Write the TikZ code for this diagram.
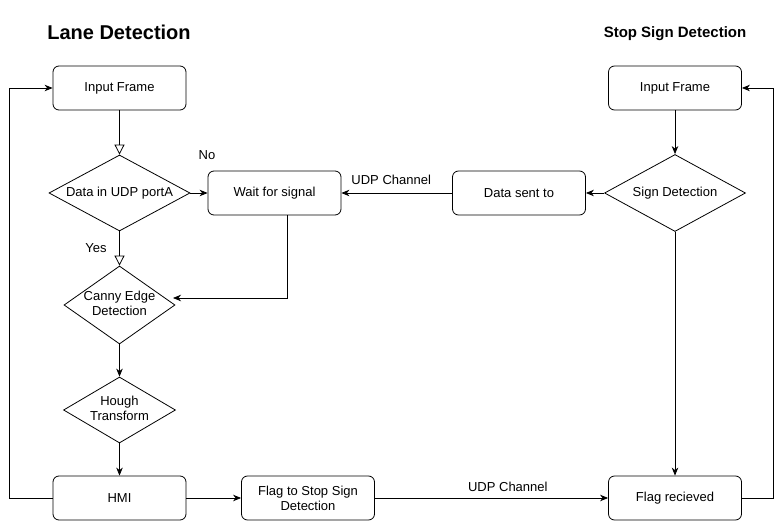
\documentclass[tikz,border=0pt]{standalone}
\usepackage{fontspec}
\setmainfont{Liberation Sans}
\usetikzlibrary{shapes.geometric,arrows.meta}
\begin{document}
\begin{tikzpicture}[x=1pt,y=-1pt,
 every node/.style={font=\fontsize{13}{15}\selectfont},
 box/.style={draw, rounded corners=6pt, minimum width=133pt, minimum height=44pt, inner sep=0pt, align=center, line width=0.8pt},
 dia/.style={draw, diamond, inner sep=0pt, line width=0.8pt},
 arr/.style={-{Stealth[length=8pt,width=6.5pt,inset=2.5pt]}, line width=0.8pt},
 oarr/.style={-{Triangle[open,length=10pt,width=10pt]}, line width=0.8pt},
 title/.style={inner sep=0pt}]
\useasboundingbox (0,0) rectangle (784,521);

\node[title, font=\bfseries\fontsize{20}{22}\selectfont] (t1) at (119,32) {Lane Detection};
\node[title, font=\bfseries\fontsize{15}{17}\selectfont] (t2) at (675,34) {Stop Sign Detection};

\node[box] (inL) at (119.5,88) {Input Frame};
\node[dia, minimum width=141pt, minimum height=76pt, label={center:Data in UDP portA}] (udp) at (119.5,193) {};
\node[box] (wait) at (274.5,193) {Wait for signal};
\node[dia, minimum width=111pt, minimum height=78pt, label={[align=center, yshift=2pt]center:Canny Edge\\Detection}] (canny) at (119.5,305) {};
\node[dia, minimum width=112pt, minimum height=66pt, label={[align=center, yshift=2pt]center:Hough\\Transform}] (hough) at (119.5,410) {};
\node[box] (hmi) at (119.5,498) {HMI};
\node[box] (flag) at (308,498) {Flag to Stop Sign\\Detection};
\node[box] (frec) at (675,498) {Flag recieved};
\node[box] (inR) at (675,88) {Input Frame};
\node[dia, minimum width=141pt, minimum height=77pt, label={center:Sign Detection}] (sign) at (675,193) {};
\node[box] (sent) at (519,193) {Data sent to};

\node (no) at (207,155) {No};
\node (yes) at (96,248) {Yes};

\coordinate (wc) at (287,298);
\coordinate (ce) at (173,298);
\coordinate (rr) at (773,0);
\coordinate (ll) at (9,0);

\draw[oarr] (inL) -- (udp);
\draw[arr] (udp) -- (wait);
\draw[oarr] (udp) -- (canny);
\draw[arr] (wait.south -| wc) -- (wc) -- (ce);
\draw[arr] (canny) -- (hough);
\draw[arr] (hough) -- (hmi);
\draw[arr] (hmi) -- (flag);
\draw[arr] (flag) -- node[pos=0.57, above=3pt] {UDP Channel} (frec);
\draw[arr] (inR) -- (sign);
\draw[arr] (sign) -- (sent);
\draw[arr] (sent) -- node[pos=0.55, above=5pt] {UDP Channel} (wait);
\draw[arr] (sign) -- (frec);
\draw[arr] (frec.east) -- (frec.east -| rr) -- (inR.east -| rr) -- (inR.east);
\draw[arr] (hmi.west) -- (hmi.west -| ll) -- (inL.west -| ll) -- (inL.west);
\end{tikzpicture}
\end{document}
